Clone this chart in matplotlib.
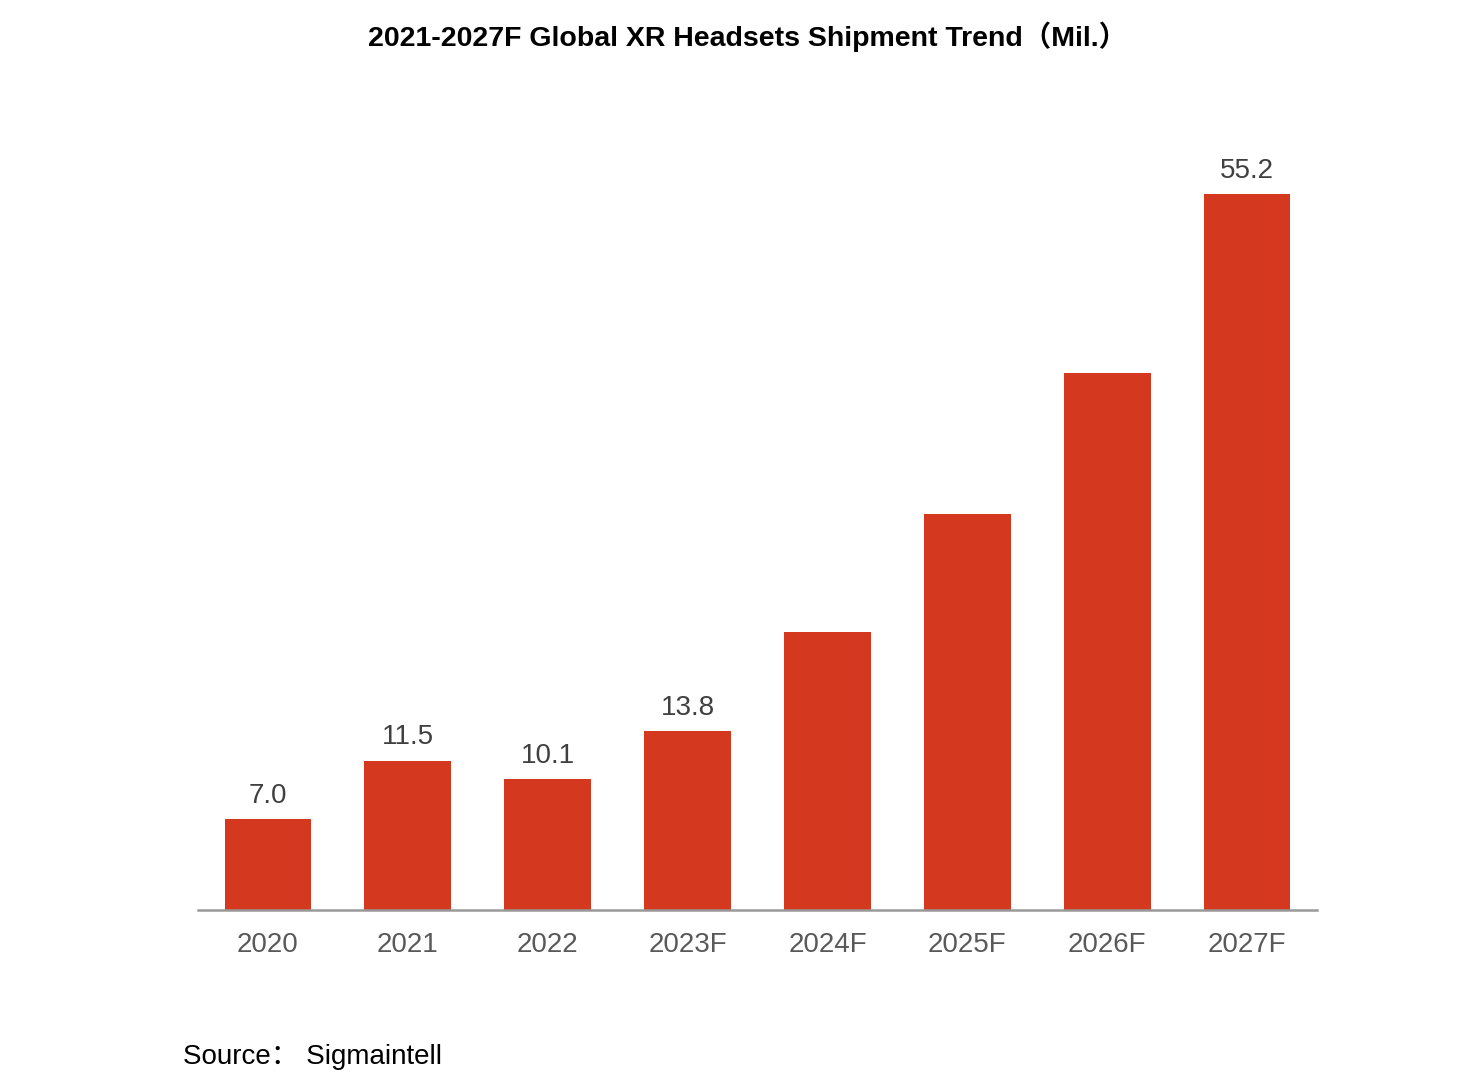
import matplotlib.pyplot as plt

plt.rcParams['font.family'] = ['Liberation Sans', 'Noto Sans CJK SC', 'DejaVu Sans']

# Shipments in millions (labels shown only on some bars in the source)
years = ['2020', '2021', '2022', '2023F', '2024F', '2025F', '2026F', '2027F']
shipments = [7.0, 11.5, 10.1, 13.8, 21.4, 30.5, 41.4, 55.2]
shown_labels = ['7.0', '11.5', '10.1', '13.8', '', '', '', '55.2']

W, H = 1472, 1079
fig = plt.figure(figsize=(W / 100, H / 100), dpi=100)

# axes placed in pixel terms: x 198..1317, baseline at y=910
ymax = 60
px_per_unit = 12.97
top_px = 910 - ymax * px_per_unit
ax = fig.add_axes([198 / W, 1 - 910 / H, (1317 - 198) / W, (910 - top_px) / H])

x = range(len(years))
bars = ax.bar(x, shipments, width=0.62, color='#D4381E')

for b, lab in zip(bars, shown_labels):
    if lab:
        ax.text(b.get_x() + b.get_width() / 2, b.get_height() + 0.8, lab,
                ha='center', va='bottom', fontsize=20, color='#404040')

ax.set_xlim(-0.5, len(years) - 0.5)
ax.set_ylim(0, ymax)
ax.set_xticks(list(x))
ax.set_xticklabels(years, fontsize=20, color='#595959')
ax.tick_params(axis='x', length=0, pad=16)
ax.set_yticks([])
for s in ['top', 'right', 'left']:
    ax.spines[s].set_visible(False)
ax.spines['bottom'].set_color('#999999')
ax.spines['bottom'].set_linewidth(1.8)

fig.text(748 / W, 1 - 37 / H, '2021-2027F Global XR Headsets Shipment Trend（Mil.）',
         ha='center', va='center', fontsize=20.5, fontweight='bold', color='black')
fig.text(183 / W, 1 - 1057 / H, 'Source： Sigmaintell', ha='left', va='center',
         fontsize=20, color='black')

fig.savefig('out.png', dpi=100, facecolor='white')
